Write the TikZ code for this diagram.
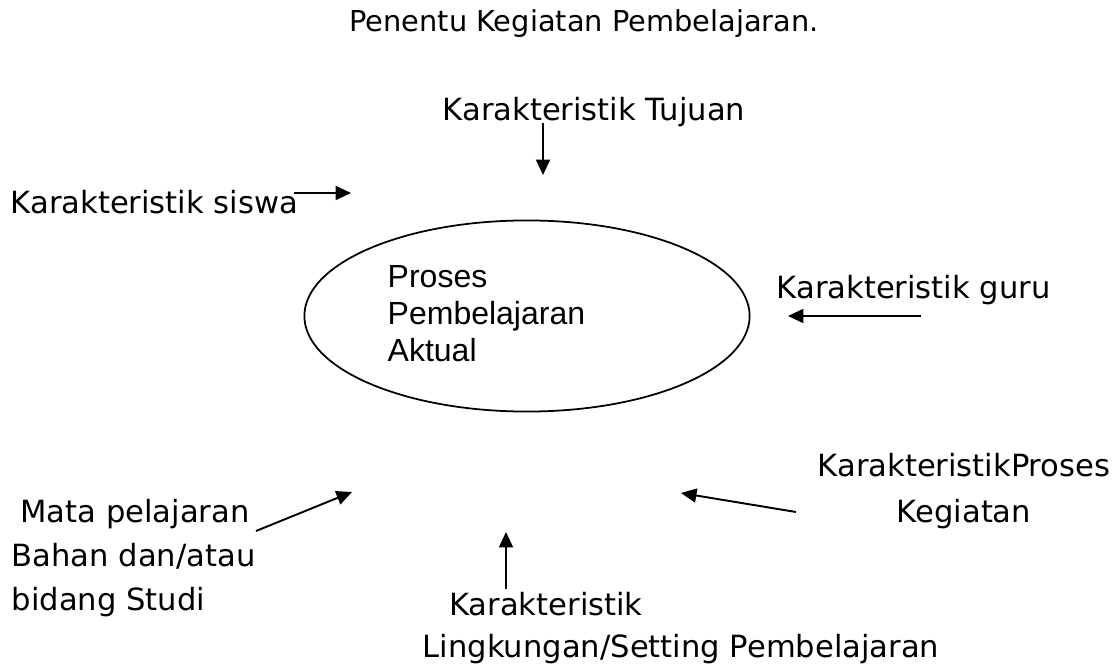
\documentclass[tikz,border=0pt]{standalone}
\usepackage{fontspec}
\setmainfont{DejaVu Sans}
\newfontfamily\arialfont{Liberation Sans}
\usetikzlibrary{shapes.geometric,arrows.meta}
\begin{document}
\begin{tikzpicture}[x=0.01cm,y=-0.01cm,
  lbl/.style={inner sep=0pt,font=\fontsize{8.7}{12.6}\selectfont},
  arr/.style={line width=0.55pt,-{Triangle[length=4.4pt,width=4.0pt]}}]
\useasboundingbox (0,0) rectangle (1112,667);
\node[lbl,font=\fontsize{8.2}{12.6}\selectfont] (title) at (584,24) {Penentu Kegiatan Pembelajaran.};
\node[lbl] (tujuan) at (594,112) {Karakteristik Tujuan};
\node[lbl,anchor=west] (siswa) at (10,202) {Karakteristik siswa};
\node[lbl,anchor=west] (guru) at (776,290) {Karakteristik guru};
\node[draw,ellipse,line width=0.5pt,minimum width=4.45cm,minimum height=1.91cm,inner sep=0pt] (proc) at (527,316) {};
\node[inner sep=0pt,anchor=west,align=left,font=\arialfont\fontsize{9.1}{10.5}\selectfont] (proctext) at (387,314) {Proses\\Pembelajaran\\Aktual};
\node[lbl,align=center,font=\fontsize{8.7}{13.3}\selectfont] (proses) at (964,491) {KarakteristikProses\\Kegiatan};
\node[lbl,anchor=west,align=left] (mata) at (11,558) {\hspace{2.5pt}Mata pelajaran\\Bahan dan/atau\\bidang Studi};
\node[lbl] (ling1) at (546,604) {Karakteristik};
\node[lbl] (ling2) at (681,649) {Lingkungan/Setting Pembelajaran};

\coordinate (tujA) at (543,123); \coordinate (tujB) at (543,175);
\coordinate (sisA) at (294,193); \coordinate (sisB) at (351,193);
\coordinate (guruA) at (921,316); \coordinate (guruB) at (788,316);
\coordinate (proA) at (796,512); \coordinate (proB) at (681,493);
\coordinate (mataA) at (256,531); \coordinate (mataB) at (352,492);
\coordinate (linA) at (506,589); \coordinate (linB) at (506,532);
\draw[arr] (tujA) -- (tujB);
\draw[arr] (sisA) -- (sisB);
\draw[arr] (guruA) -- (guruB);
\draw[arr] (proA) -- (proB);
\draw[arr] (mataA) -- (mataB);
\draw[arr] (linA) -- (linB);
\end{tikzpicture}
\end{document}
